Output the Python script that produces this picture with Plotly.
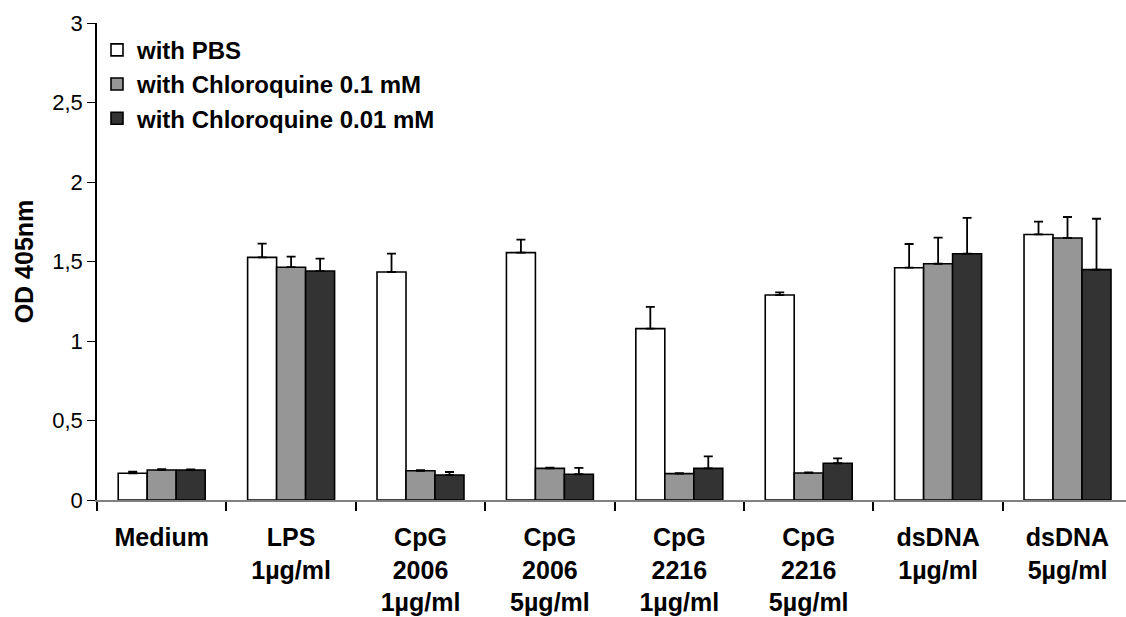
import plotly.graph_objects as go

categories = ["Medium", "LPS<br>1µg/ml", "CpG<br>2006<br>1µg/ml", "CpG<br>2006<br>5µg/ml",
              "CpG<br>2216<br>1µg/ml", "CpG<br>2216<br>5µg/ml", "dsDNA<br>1µg/ml", "dsDNA<br>5µg/ml"]
series_names = ["with PBS", "with Chloroquine 0.1 mM", "with Chloroquine 0.01 mM"]
pbs = [0.168, 1.526, 1.434, 1.556, 1.078, 1.289, 1.461, 1.670]
pbs_err = [0.010, 0.086, 0.115, 0.081, 0.136, 0.017, 0.149, 0.081]
cq01 = [0.189, 1.464, 0.184, 0.199, 0.166, 0.170, 1.486, 1.648]
cq01_err = [0.005, 0.067, 0.003, 0.004, 0.003, 0.003, 0.164, 0.132]
cq001 = [0.189, 1.440, 0.157, 0.162, 0.199, 0.231, 1.549, 1.449]
cq001_err = [0.003, 0.078, 0.019, 0.040, 0.076, 0.031, 0.226, 0.320]
colors = ["#ffffff", "#969696", "#333333"]
y_ticks = [0, 0.5, 1, 1.5, 2, 2.5, 3]

xpos = list(range(len(categories)))
fig = go.Figure()
for name, vals, errs, col in zip(series_names, [pbs, cq01, cq001], [pbs_err, cq01_err, cq001_err], colors):
    fig.add_trace(go.Bar(
        x=xpos, y=vals, name=name,
        marker=dict(color=col, line=dict(color="#000000", width=1.6)),
        error_y=dict(type="data", symmetric=False, array=errs, arrayminus=[0] * len(errs),
                     color="#000000", thickness=1.8, width=4.5),
    ))

fig.update_layout(
    width=1126, height=617,
    margin=dict(l=97, r=0, t=23, b=117),
    paper_bgcolor="white", plot_bgcolor="white",
    barmode="group", bargap=0.328, bargroupgap=0,
    separators=",.",
    font=dict(family="Liberation Sans, Arial, sans-serif", color="#000000"),
    showlegend=True,
    legend=dict(x=0.0, y=0.99, xanchor="left", yanchor="top",
                font=dict(size=24, family="Liberation Sans, Arial, sans-serif", weight="bold"),
                bgcolor="rgba(0,0,0,0)", tracegroupgap=0, itemwidth=30),
)
fig.update_xaxes(
    range=[-0.5, 7.452], tickmode="array", tickvals=xpos, ticktext=categories,
    ticks="", showgrid=False, zeroline=False,
    showline=True, linecolor="#808080", linewidth=2,
    tickfont=dict(size=25, weight="bold"),
    ticklabelstandoff=14,
    minor=dict(tick0=-0.5, dtick=1, ticks="outside", ticklen=9, tickcolor="#000000", tickwidth=1.5, showgrid=False),
)
fig.update_yaxes(
    range=[0, 3], tickmode="array", tickvals=y_ticks,
    ticks="outside", ticklen=8, tickcolor="#000000", tickwidth=1.3,
    showline=True, linecolor="#000000", linewidth=1.5,
    showgrid=False, zeroline=False,
    tickfont=dict(size=22),
    title=dict(text="OD 405nm", font=dict(size=25, weight="bold"), standoff=12),
)
fig.write_html("out.html")
